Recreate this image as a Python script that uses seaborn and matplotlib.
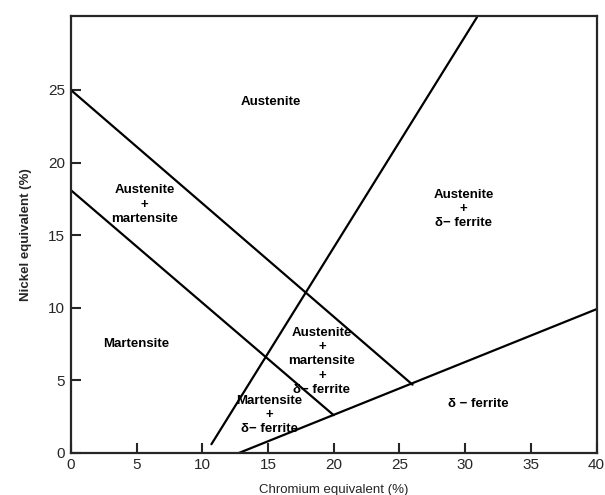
import matplotlib
matplotlib.use("Agg")
import matplotlib.pyplot as plt
import numpy as np
import pandas as pd
import seaborn as sns

# Schaeffler-type diagram: phase boundary lines (Cr eq, Ni eq end points)
boundary_names = ["austenite_upper", "martensite_upper", "steep", "ferrite"]
cr_austenite_upper = [0, 26]
ni_austenite_upper = [25, 4.7]
cr_martensite_upper = [0, 20]
ni_martensite_upper = [18.1, 2.6]
cr_steep = [10.7, 30.9]
ni_steep = [0.6, 30]
cr_ferrite = [12.8, 40]
ni_ferrite = [0, 9.9]

# region labels
label_text = ["Austenite",
              "Austenite\n+\nmartensite",
              "Austenite\n+\nδ− ferrite",
              "Martensite",
              "Austenite\n+\nmartensite\n+\nδ− ferrite",
              "Martensite\n+\nδ− ferrite",
              "δ − ferrite"]
label_cr = [15.2, 5.6, 29.9, 5.0, 19.1, 15.1, 31.0]
label_ni = [24.2, 17.1, 16.8, 7.5, 6.3, 2.6, 3.4]

x_ticks = [0, 5, 10, 15, 20, 25, 30, 35, 40]
y_ticks = [0, 5, 10, 15, 20, 25]

frames = []
for name, xs, ys in zip(boundary_names,
                        [cr_austenite_upper, cr_martensite_upper, cr_steep, cr_ferrite],
                        [ni_austenite_upper, ni_martensite_upper, ni_steep, ni_ferrite]):
    frames.append(pd.DataFrame({"cr": xs, "ni": ys, "line": name}))
data = pd.concat(frames, ignore_index=True)

sns.set_style("ticks")
plt.rcParams['font.family'] = ['Liberation Sans', 'DejaVu Sans']

fig = plt.figure(figsize=(6.05, 4.95), dpi=100)
ax = fig.add_axes([0.117, 0.085, 0.869, 0.883])

sns.lineplot(data=data, x="cr", y="ni", units="line", estimator=None,
             color="black", linewidth=1.6, sort=False, ax=ax)

for t, x, y in zip(label_text, label_cr, label_ni):
    ax.text(x, y, t, ha="center", va="center", fontsize=9.5,
            fontweight="bold", linespacing=1.25, color="black")

ax.set_xlim(0, 40)
ax.set_ylim(0, 30.1)
ax.set_xticks(x_ticks)
ax.set_yticks(y_ticks)
ax.tick_params(direction="in", length=7, width=1.5, labelsize=11, pad=4)
for s in ax.spines.values():
    s.set_linewidth(1.6)
ax.set_xlabel("Chromium equivalent (%)", fontsize=9.5, labelpad=8)
ax.set_ylabel("Nickel equivalent (%)", fontsize=9.5, fontweight="bold", labelpad=12)

fig.savefig("out.png", dpi=100)
